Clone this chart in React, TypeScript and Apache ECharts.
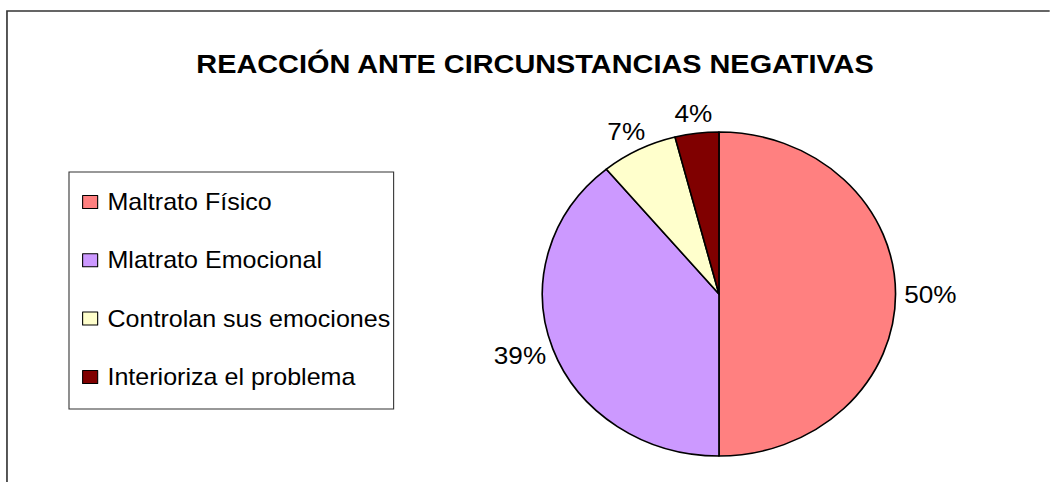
import React, { useEffect, useRef } from "react";
import * as echarts from "echarts";

const titleText = "REACCIÓN ANTE CIRCUNSTANCIAS NEGATIVAS";
const categories = [
  "Maltrato Físico",
  "Mlatrato Emocional",
  "Controlan sus emociones",
  "Interioriza el problema",
];
const values = [50, 39, 7, 4];
const colors = ["#FF8080", "#CC99FF", "#FFFFCC", "#800000"];

const STRETCH = 1.09;
const W = 1050 / STRETCH;
const H = 482;
const CX = 659.6;
const CY = 294;
const R = 162;
const GAP = 8;
const FONT = 'Arial, "Liberation Sans", sans-serif';

export default function App() {
  const ref = useRef<HTMLDivElement>(null);

  useEffect(() => {
    if (!ref.current) return;
    const chart = echarts.init(ref.current, undefined, { renderer: "svg" });
    const total = values.reduce((a, b) => a + b, 0);

    chart.setOption({
      animation: false,
      backgroundColor: "#ffffff",
      title: {
        text: titleText,
        left: 490.8,
        top: 50,
        padding: 0,
        textAlign: "center",
        textStyle: {
          fontFamily: FONT,
          fontSize: 26.5,
          fontWeight: "bold",
          color: "#000",
        },
      },
      legend: {
        orient: "vertical",
        left: 63.3,
        top: 172,
        padding: [18.5, 3, 20.5, 12],
        itemGap: 35.3,
        itemWidth: 13.8,
        itemHeight: 13,
        icon: "rect",
        borderColor: "#333",
        borderWidth: 1,
        data: categories,
        itemStyle: { borderColor: "#000", borderWidth: 1 },
        textStyle: {
          fontFamily: FONT,
          fontSize: 23,
          lineHeight: 23,
          color: "#000",
          padding: [0, 0, 0, 4],
        },
      },
      graphic: [
        {
          type: "rect",
          shape: { x: 6.4, y: 11, width: 2000, height: 1000 },
          style: { fill: "none", stroke: "#333", lineWidth: 1.5 },
          silent: true,
          z: -1,
        },
      ],
      series: [
        {
          type: "pie",
          center: [CX, CY],
          radius: R,
          startAngle: 90,
          clockwise: true,
          percentPrecision: 0,
          avoidLabelOverlap: false,
          itemStyle: { borderColor: "#000", borderWidth: 1.5 },
          label: {
            show: true,
            position: "outside",
            formatter: "{d}%",
            fontFamily: FONT,
            fontSize: 24,
            color: "#000",
          },
          labelLine: { show: false, length: 4, length2: 4 },
          labelLayout: (p: any) => {
            const i = p.dataIndex;
            let before = 0;
            for (let k = 0; k < i; k++) before += values[k];
            const mid = ((before + values[i] / 2) / total) * Math.PI * 2;
            const dx = Math.sin(mid);
            const dy = -Math.cos(mid);
            const hw = p.labelRect.width / 2;
            const hh = p.labelRect.height / 2;
            return {
              x: CX + (R + GAP) * dx + hw * dx,
              y: CY + (R + GAP) * dy + hh * dy,
              align: "center",
              verticalAlign: "middle",
            };
          },
          data: categories.map((name, i) => ({
            name,
            value: values[i],
            itemStyle: { color: colors[i] },
          })),
        },
      ],
    });

    return () => chart.dispose();
  }, []);

  return (
    <div
      ref={ref}
      style={{
        position: "fixed",
        left: 0,
        top: 0,
        width: W,
        height: H,
        transform: `scaleX(${STRETCH})`,
        transformOrigin: "0 0",
      }}
    />
  );
}
